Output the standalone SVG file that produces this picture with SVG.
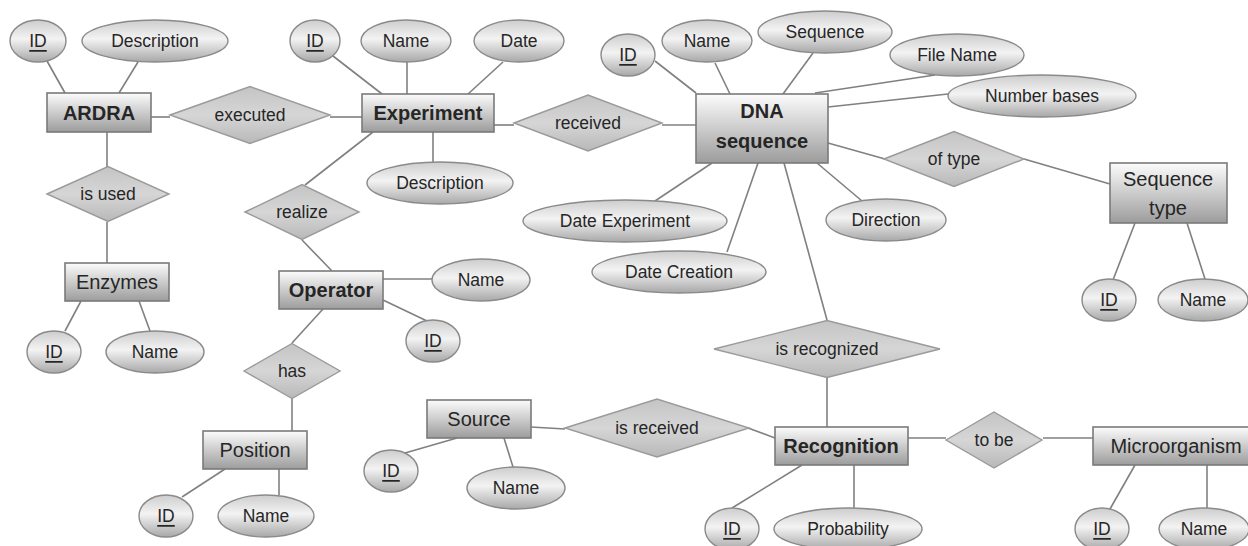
<svg xmlns="http://www.w3.org/2000/svg" width="1248" height="546" viewBox="0 0 1248 546">
<defs>
<linearGradient id="gR" x1="0" y1="0" x2="0" y2="1"><stop offset="0" stop-color="#fcfcfc"/><stop offset="1" stop-color="#9c9c9c"/></linearGradient>
<linearGradient id="gE" x1="0" y1="0" x2="0" y2="1"><stop offset="0" stop-color="#cdcdcd"/><stop offset="0.45" stop-color="#f3f3f3"/><stop offset="1" stop-color="#a8a8a8"/></linearGradient>
<linearGradient id="gD" x1="0" y1="0" x2="0" y2="1"><stop offset="0" stop-color="#c4c4c4"/><stop offset="0.5" stop-color="#d6d6d6"/><stop offset="1" stop-color="#b8b8b8"/></linearGradient>
</defs>
<style>
.c line{stroke:#808080;stroke-width:1.6}
.e rect{fill:url(#gR);stroke:#7a7a7a;stroke-width:1.6}
.a ellipse{fill:url(#gE);stroke:#8a8a8a;stroke-width:1.4}
.r polygon{fill:url(#gD);stroke:#9a9a9a;stroke-width:1.4}
text{font-family:"Liberation Sans",Arial,sans-serif;fill:#262626;text-anchor:middle;dominant-baseline:central}
.e text{font-size:20px}
.e text.b{font-weight:bold}
.a text,.r text{font-size:17.5px}
.u{text-decoration:underline}
</style>
<rect width="1248" height="546" fill="#ffffff"/>
<g id="connectors" class="c">
<line x1="47" y1="61" x2="65" y2="93"/>
<line x1="138" y1="62" x2="119" y2="93"/>
<line x1="151" y1="117" x2="170" y2="117"/>
<line x1="330" y1="117" x2="362" y2="117"/>
<line x1="107" y1="132" x2="107" y2="167"/>
<line x1="107" y1="222" x2="107" y2="263"/>
<line x1="333" y1="56" x2="382" y2="94"/>
<line x1="407" y1="62" x2="407" y2="94"/>
<line x1="503" y1="62" x2="468" y2="94"/>
<line x1="433" y1="132" x2="433" y2="162"/>
<line x1="494" y1="125" x2="514" y2="125"/>
<line x1="662" y1="125" x2="696" y2="125"/>
<line x1="373" y1="132" x2="305" y2="185"/>
<line x1="302" y1="240" x2="332" y2="271"/>
<line x1="383" y1="279" x2="432" y2="279"/>
<line x1="383" y1="300" x2="427" y2="321"/>
<line x1="323" y1="309" x2="292" y2="343"/>
<line x1="292" y1="398" x2="292" y2="431"/>
<line x1="225" y1="469" x2="182" y2="497"/>
<line x1="279" y1="469" x2="279" y2="495"/>
<line x1="81" y1="301" x2="65" y2="331"/>
<line x1="139" y1="301" x2="150" y2="331"/>
<line x1="655" y1="61" x2="696" y2="93"/>
<line x1="715" y1="63" x2="730" y2="94"/>
<line x1="813" y1="53" x2="783" y2="94"/>
<line x1="815" y1="93" x2="935" y2="75"/>
<line x1="828" y1="107" x2="948" y2="94"/>
<line x1="828" y1="143" x2="885" y2="159"/>
<line x1="1024" y1="159" x2="1110" y2="184"/>
<line x1="1135" y1="223" x2="1113" y2="280"/>
<line x1="1187" y1="223" x2="1205" y2="279"/>
<line x1="712" y1="163" x2="655" y2="201"/>
<line x1="758" y1="163" x2="727" y2="252"/>
<line x1="784" y1="163" x2="827" y2="320"/>
<line x1="817" y1="163" x2="862" y2="201"/>
<line x1="827" y1="377" x2="827" y2="427"/>
<line x1="531" y1="427" x2="565" y2="429"/>
<line x1="748" y1="428" x2="775" y2="438"/>
<line x1="457" y1="438" x2="405" y2="453"/>
<line x1="504" y1="438" x2="513" y2="467"/>
<line x1="802" y1="465" x2="732" y2="508"/>
<line x1="854" y1="465" x2="854" y2="508"/>
<line x1="908" y1="438" x2="946" y2="438"/>
<line x1="1043" y1="438" x2="1093" y2="438"/>
<line x1="1135" y1="465" x2="1110" y2="509"/>
<line x1="1207" y1="465" x2="1207" y2="508"/>
</g>
<g class="r">
<g id="rel-executed"><polygon points="170,115 250,86.5 330,115 250,143.5"/><text x="250" y="115">executed</text></g>
<g id="rel-received"><polygon points="514,123 588,95 662,123 588,151"/><text x="588" y="123">received</text></g>
<g id="rel-isused"><polygon points="47,194 108,166.5 169,194 108,221.5"/><text x="108" y="194">is used</text></g>
<g id="rel-realize"><polygon points="245,212 302,184.5 359,212 302,239.5"/><text x="302" y="212">realize</text></g>
<g id="rel-has"><polygon points="244,371 292,343.5 340,371 292,398.5"/><text x="292" y="371">has</text></g>
<g id="rel-oftype"><polygon points="884,159 954,131.5 1024,159 954,186.5"/><text x="954" y="159">of type</text></g>
<g id="rel-isrecognized"><polygon points="714,349 827,320.5 940,349 827,377.5"/><text x="827" y="349">is recognized</text></g>
<g id="rel-isreceived"><polygon points="565,428 657,399 749,428 657,457"/><text x="657" y="428">is received</text></g>
<g id="rel-tobe"><polygon points="946,440 994,412 1042,440 994,468"/><text x="994" y="440">to be</text></g>
</g>
<g class="a">
<g id="att-ardra-id"><ellipse cx="38" cy="41" rx="28" ry="21"/><text class="u" x="38" y="41">ID</text></g>
<g id="att-ardra-desc"><ellipse cx="155" cy="41" rx="73" ry="21"/><text x="155" y="41">Description</text></g>
<g id="att-exp-id"><ellipse cx="315" cy="41" rx="25" ry="21"/><text class="u" x="315" y="41">ID</text></g>
<g id="att-exp-name"><ellipse cx="406" cy="41" rx="45" ry="21"/><text x="406" y="41">Name</text></g>
<g id="att-exp-date"><ellipse cx="519" cy="41" rx="45" ry="21"/><text x="519" y="41">Date</text></g>
<g id="att-exp-desc"><ellipse cx="440" cy="183" rx="73" ry="21"/><text x="440" y="183">Description</text></g>
<g id="att-dna-id"><ellipse cx="628" cy="55" rx="27" ry="21"/><text class="u" x="628" y="55">ID</text></g>
<g id="att-dna-name"><ellipse cx="707" cy="41" rx="45" ry="21"/><text x="707" y="41">Name</text></g>
<g id="att-dna-seq"><ellipse cx="825" cy="32" rx="67" ry="21"/><text x="825" y="32">Sequence</text></g>
<g id="att-dna-file"><ellipse cx="957" cy="55" rx="67" ry="21"/><text x="957" y="55">File Name</text></g>
<g id="att-dna-nb"><ellipse cx="1042" cy="96" rx="94" ry="21"/><text x="1042" y="96">Number bases</text></g>
<g id="att-dna-dexp"><ellipse cx="625" cy="221" rx="102" ry="21"/><text x="625" y="221">Date Experiment</text></g>
<g id="att-dna-dcre"><ellipse cx="679" cy="272" rx="87" ry="21"/><text x="679" y="272">Date Creation</text></g>
<g id="att-dna-dir"><ellipse cx="886" cy="220" rx="60" ry="21"/><text x="886" y="220">Direction</text></g>
<g id="att-st-id"><ellipse cx="1109" cy="300" rx="27" ry="21"/><text class="u" x="1109" y="300">ID</text></g>
<g id="att-st-name"><ellipse cx="1203" cy="300" rx="45" ry="21"/><text x="1203" y="300">Name</text></g>
<g id="att-enz-id"><ellipse cx="54" cy="352" rx="27" ry="21"/><text class="u" x="54" y="352">ID</text></g>
<g id="att-enz-name"><ellipse cx="155" cy="352" rx="49" ry="21"/><text x="155" y="352">Name</text></g>
<g id="att-op-name"><ellipse cx="481" cy="280" rx="49" ry="21"/><text x="481" y="280">Name</text></g>
<g id="att-op-id"><ellipse cx="433" cy="341" rx="27" ry="21"/><text class="u" x="433" y="341">ID</text></g>
<g id="att-pos-id"><ellipse cx="166" cy="516" rx="27" ry="21"/><text class="u" x="166" y="516">ID</text></g>
<g id="att-pos-name"><ellipse cx="266" cy="516" rx="48" ry="21"/><text x="266" y="516">Name</text></g>
<g id="att-src-id"><ellipse cx="391" cy="471" rx="27" ry="21"/><text class="u" x="391" y="471">ID</text></g>
<g id="att-src-name"><ellipse cx="516" cy="488" rx="49" ry="21"/><text x="516" y="488">Name</text></g>
<g id="att-rec-id"><ellipse cx="732" cy="529" rx="27" ry="21"/><text class="u" x="732" y="529">ID</text></g>
<g id="att-rec-prob"><ellipse cx="848" cy="529" rx="74" ry="21"/><text x="848" y="529">Probability</text></g>
<g id="att-mic-id"><ellipse cx="1102" cy="529" rx="27" ry="21"/><text class="u" x="1102" y="529">ID</text></g>
<g id="att-mic-name"><ellipse cx="1204" cy="529" rx="45" ry="21"/><text x="1204" y="529">Name</text></g>
</g>
<g class="e">
<g id="ent-ardra"><rect x="47" y="93" width="104" height="39"/><text class="b" x="99" y="113">ARDRA</text></g>
<g id="ent-experiment"><rect x="362" y="94" width="132" height="38"/><text class="b" x="428" y="113">Experiment</text></g>
<g id="ent-dna"><rect x="696" y="94" width="132" height="69"/><text class="b" x="762" y="111">DNA</text><text class="b" x="762" y="141">sequence</text></g>
<g id="ent-seqtype"><rect x="1110" y="163" width="117" height="60"/><text x="1168" y="179">Sequence</text><text x="1168" y="208">type</text></g>
<g id="ent-enzymes"><rect x="65" y="263" width="104" height="38"/><text x="117" y="282">Enzymes</text></g>
<g id="ent-operator"><rect x="279" y="271" width="104" height="38"/><text class="b" x="331" y="290">Operator</text></g>
<g id="ent-position"><rect x="203" y="431" width="104" height="38"/><text x="255" y="450">Position</text></g>
<g id="ent-source"><rect x="427" y="400" width="104" height="38"/><text x="479" y="419">Source</text></g>
<g id="ent-recognition"><rect x="775" y="427" width="133" height="38"/><text class="b" x="841" y="446">Recognition</text></g>
<g id="ent-micro"><rect x="1093" y="427" width="162" height="38"/><text x="1176" y="446">Microorganism</text></g>
</g>
</svg>
